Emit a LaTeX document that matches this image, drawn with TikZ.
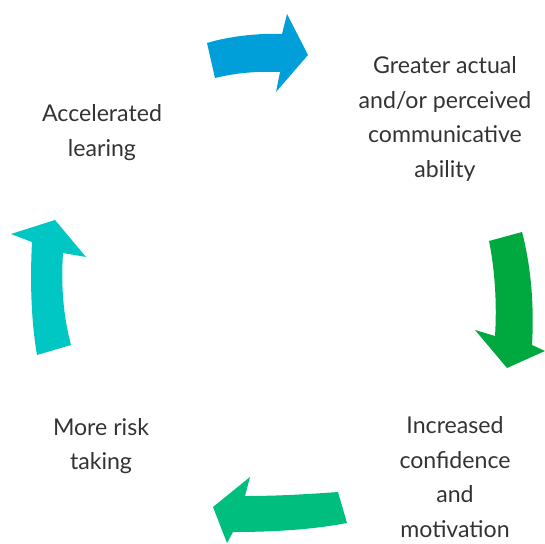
\documentclass[tikz,border=0pt]{standalone}
\usepackage{fontspec}
\setmainfont{Lato}
\newlength{\du}
\setlength{\du}{1bp}
\tikzset{label text/.style={align=center,inner sep=0pt,text=textgray,
  font=\fontsize{23.2}{34.8}\selectfont}}
\definecolor{textgray}{rgb}{0.200000, 0.200000, 0.200000}
\begin{document}
\begin{tikzpicture}
\pgftransformxscale{1.000000}
\pgftransformyscale{-1.000000}
\useasboundingbox (0\du,0\du) rectangle (545\du,544\du);
% arrow top, blue
\definecolor{dialinecolor}{rgb}{0.000000, 0.623000, 0.855000}
\pgfsetfillcolor{dialinecolor}
\fill (207\du,43\du) .. controls (230\du,36\du) and (260\du,33\du) .. (282\du,34\du) -- (287\du,14\du) -- (308\du,55\du) -- (276\du,92\du) -- (280\du,72\du) .. controls (258\du,71\du) and (235\du,73\du) .. (215\du,78\du) -- cycle;
% arrow right, green
\definecolor{dialinecolor}{rgb}{0.000000, 0.659000, 0.251000}
\pgfsetfillcolor{dialinecolor}
\fill (489\du,241\du) -- (522\du,232\du) .. controls (532\du,270\du) and (534\du,310\du) .. (532\du,345\du) -- (545\du,351\du) -- (507\du,368\du) -- (475\du,330\du) -- (495\du,336\du) .. controls (497\du,305\du) and (495\du,270\du) .. (489\du,241\du) -- cycle;
% arrow bottom, sea green
\definecolor{dialinecolor}{rgb}{0.000000, 0.745000, 0.490000}
\pgfsetfillcolor{dialinecolor}
\fill (338\du,492\du) -- (347\du,523\du) .. controls (310\du,530\du) and (270\du,532\du) .. (233\du,532\du) -- (227\du,543\du) -- (213\du,507\du) -- (250\du,477\du) -- (245\du,496\du) .. controls (280\du,496\du) and (310\du,494\du) .. (338\du,492\du) -- cycle;
% arrow left, cyan
\definecolor{dialinecolor}{rgb}{0.000000, 0.776000, 0.769000}
\pgfsetfillcolor{dialinecolor}
\fill (37\du,355\du) -- (71\du,345\du) .. controls (63\du,315\du) and (61\du,285\du) .. (63\du,253\du) -- (86\du,257\du) -- (55\du,220\du) -- (11\du,234\du) -- (32\du,242\du) .. controls (30\du,280\du) and (31\du,320\du) .. (37\du,355\du) -- cycle;
% labels
\node[label text] (ability) at (445\du,119\du){Greater actual\\and/or perceived\\communicative\\ability};
\node[label text] (confidence) at (455\du,477\du){Increased\\confidence\\and\\motivation};
\node[label text] (risk) at (101\du,446\du){More risk\\taking};
\node[label text] (learning) at (102\du,132.5\du){Accelerated\\learing};
\end{tikzpicture}
\end{document}
